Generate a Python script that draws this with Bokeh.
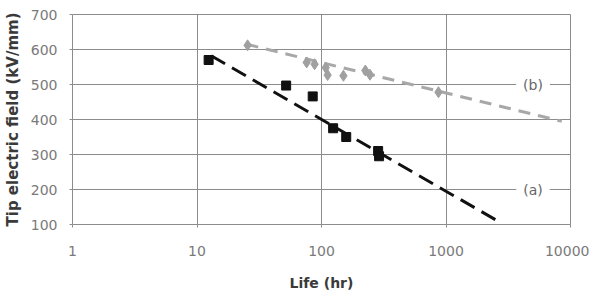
from bokeh.plotting import figure
from bokeh.models import Range1d, FixedTicker, Label
from bokeh.embed import file_html
from bokeh.resources import INLINE

# ---- data ----
x_ticks = [1, 10, 100, 1000, 10000]
x_tick_labels = ["1", "10", "100", "1000", "10000"]
y_ticks = [100, 200, 300, 400, 500, 600, 700]

# series (a): squares and fitted dashed line
a_life = [12.4, 52, 85, 124, 158, 285, 290]
a_field = [570, 497, 466, 375, 350, 310, 295]
a_fit_life = [13, 2750]
a_fit_field = [582, 105]

# series (b): diamonds and fitted dashed line
b_life = [25.5, 76, 88, 108, 112, 150, 225, 245, 870]
b_field = [612, 563, 558, 548, 527, 525, 540, 528, 478]
b_fit_life = [25, 8500]
b_fit_field = [615, 395]

series_labels = ["(a)", "(b)"]
label_life = [5000, 5000]
label_field = [200, 500]

FONT = "DejaVu Sans"
GRID = "#8c8c8c"

p = figure(width=589, height=294, x_axis_type="log",
           x_range=Range1d(1, 10000), y_range=Range1d(100, 700),
           output_backend="svg", toolbar_location=None,
           min_border_left=72, min_border_right=19,
           min_border_top=14, min_border_bottom=70)
p.background_fill_color = "white"
p.border_fill_color = "white"
p.outline_line_color = GRID
p.outline_line_width = 1

for g in (p.xgrid, p.ygrid):
    g.grid_line_color = GRID
    g.grid_line_width = 1
p.xgrid.ticker = FixedTicker(ticks=x_ticks)
p.ygrid.ticker = FixedTicker(ticks=y_ticks)

p.xaxis.ticker = FixedTicker(ticks=x_ticks)
p.xaxis.major_label_overrides = {t: s for t, s in zip(x_ticks, x_tick_labels)}
p.yaxis.ticker = FixedTicker(ticks=y_ticks)

for ax in (p.xaxis, p.yaxis):
    ax.axis_line_color = None
    ax.major_tick_line_color = GRID
    ax.major_tick_out = 3
    ax.major_tick_in = 0
    ax.minor_tick_line_color = None
    ax.major_label_text_font = FONT
    ax.major_label_text_font_size = "14px"
    ax.major_label_text_color = "#7a7a7a"
    ax.axis_label_text_font = FONT
    ax.axis_label_text_font_style = "bold"
    ax.axis_label_text_color = "#3a3a3a"

p.xaxis.axis_label = "Life (hr)"
p.xaxis.axis_label_text_font_size = "14px"
p.xaxis.major_label_standoff = 18
p.xaxis.axis_label_standoff = 16

p.yaxis.axis_label = "Tip electric field (kV/mm)"
p.yaxis.axis_label_text_font_size = "15px"
p.yaxis.major_label_standoff = 12
p.yaxis.axis_label_standoff = 6

# fitted lines
p.line(b_fit_life, b_fit_field, line_color="#a8a8a8", line_width=3, line_dash="12 8")
p.line(a_fit_life, a_fit_field, line_color="#111111", line_width=3, line_dash="16 8")

# data points
p.scatter(b_life, b_field, marker="diamond", size=11, fill_color="#a0a0a0",
          line_color="#a0a0a0")
p.scatter(a_life, a_field, marker="square", size=9, fill_color="#111111",
          line_color="#111111")

for txt, lx, ly in zip(series_labels, label_life, label_field):
    p.add_layout(Label(x=lx, y=ly, text=txt, text_align="center",
                       text_baseline="middle", text_font=FONT,
                       text_font_size="14px", text_color="#666666",
                       background_fill_color="white", padding=7))

open("out.html", "w").write(file_html(p, INLINE))
